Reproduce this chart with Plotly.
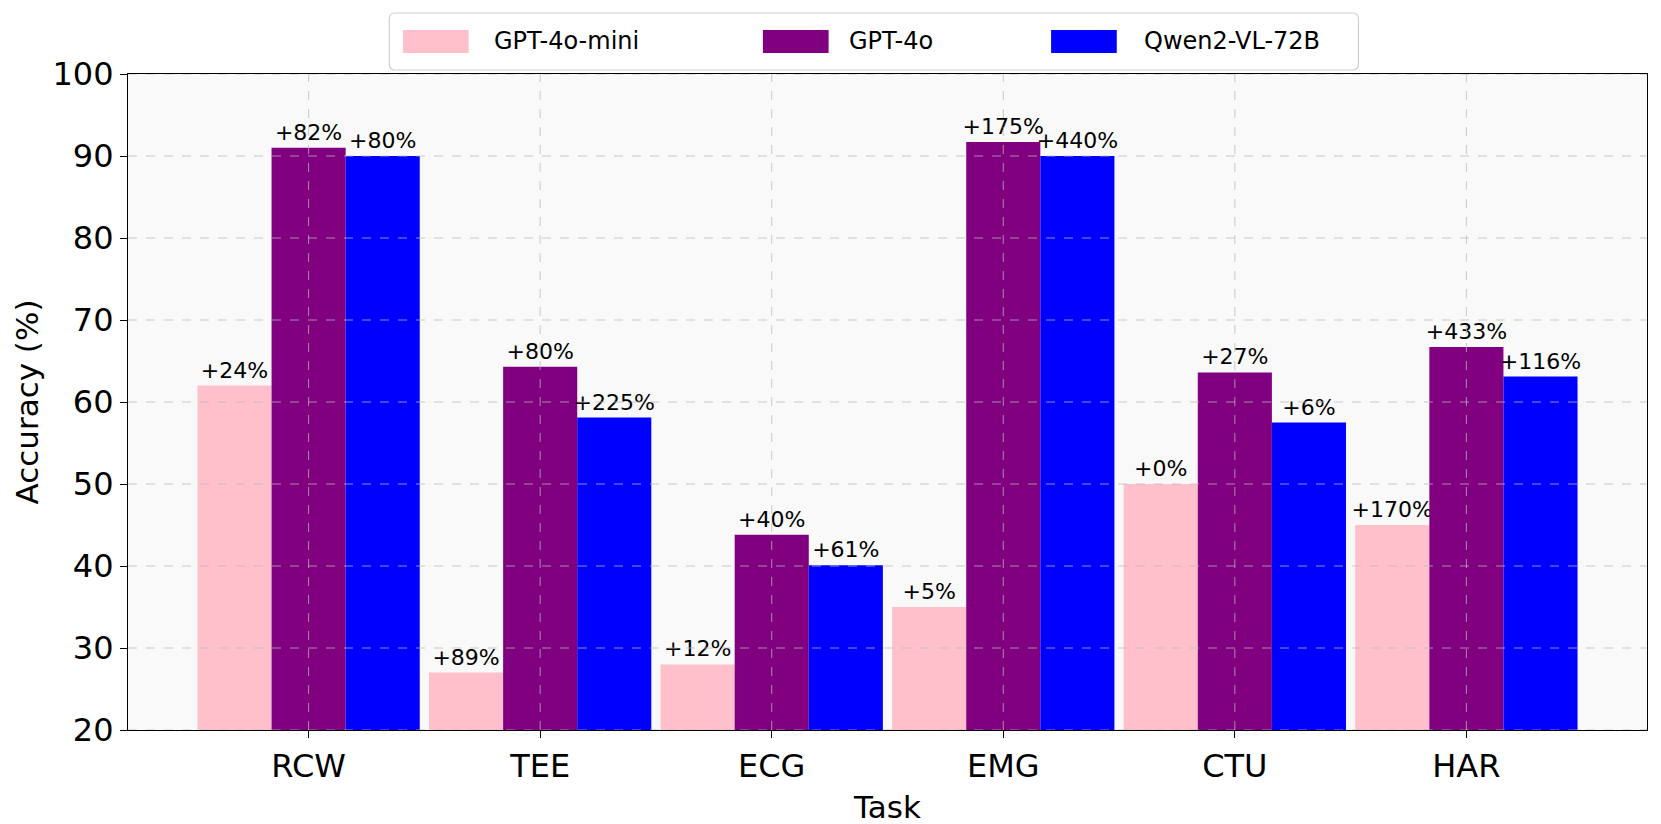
import plotly.graph_objects as go

tasks = ["RCW", "TEE", "ECG", "EMG", "CTU", "HAR"]
series_names = ["GPT-4o-mini", "GPT-4o", "Qwen2-VL-72B"]
mini_vals = [62.0, 27.0, 28.0, 35.0, 50.0, 45.0]
gpt4o_vals = [91.0, 64.3, 43.8, 91.7, 63.6, 66.7]
qwen_vals = [90.0, 58.1, 40.1, 90.0, 57.5, 63.1]
mini_labels = ["+24%", "+89%", "+12%", "+5%", "+0%", "+170%"]
gpt4o_labels = ["+82%", "+80%", "+40%", "+175%", "+27%", "+433%"]
qwen_labels = ["+80%", "+225%", "+61%", "+440%", "+6%", "+116%"]
colors = ["#FFC0CB", "#800080", "#0000FF"]
y_ticks = [20, 30, 40, 50, 60, 70, 80, 90, 100]

FONT = "DejaVu Sans"
W, H = 1661, 824
ML, MR, MT, MB = 120, 22, 66, 102
PW, PH = W - ML - MR, H - MT - MB

fig = go.Figure()
for name, vals, labels, col in zip(series_names,
                                   [mini_vals, gpt4o_vals, qwen_vals],
                                   [mini_labels, gpt4o_labels, qwen_labels],
                                   colors):
    fig.add_trace(go.Bar(
        name=name, x=tasks, y=vals, text=labels,
        textposition="outside", constraintext="none", cliponaxis=False,
        textfont=dict(family=FONT, size=22, color="black"),
        marker=dict(color=col, line=dict(width=0)),
        showlegend=False,
    ))

shapes = []
grid_line = dict(color="rgba(185,185,185,0.75)", width=1, dash="dash")
for yv in y_ticks:
    shapes.append(dict(type="line", xref="paper", yref="y", x0=0, x1=1,
                       y0=yv, y1=yv, line=grid_line, layer="above"))
for t in tasks:
    shapes.append(dict(type="line", xref="x", yref="paper", x0=t, x1=t,
                       y0=0, y1=1, line=grid_line, layer="above"))

# legend box (manual, matplotlib-style)
bx0, bx1 = 0.172, 0.810
by0, by1 = 1 + 4 / PH, 1 + 61 / PH
rx, ry = 6 / PW, 6 / PH
path = (f"M{bx0+rx},{by0} L{bx1-rx},{by0} Q{bx1},{by0} {bx1},{by0+ry} "
        f"L{bx1},{by1-ry} Q{bx1},{by1} {bx1-rx},{by1} L{bx0+rx},{by1} "
        f"Q{bx0},{by1} {bx0},{by1-ry} L{bx0},{by0+ry} Q{bx0},{by0} {bx0+rx},{by0} Z")
shapes.append(dict(type="path", xref="paper", yref="paper", path=path,
                   fillcolor="white", line=dict(color="#d0d0d0", width=1.2), layer="above"))
sw_x = [0.181, 0.418, 0.6077]
tx_x = [0.2397, 0.4732, 0.6676]
sw_w = 62 / 0.944 / PW
cy = (by0 + by1) / 2
sh = 11.5 / PH
annotations = []
for name, col, sx, tx in zip(series_names, colors, sw_x, tx_x):
    shapes.append(dict(type="rect", xref="paper", yref="paper", x0=sx, x1=sx + sw_w,
                       y0=cy - sh, y1=cy + sh, fillcolor=col, line=dict(width=0), layer="above"))
    annotations.append(dict(xref="paper", yref="paper", x=tx, y=cy, xanchor="left",
                            yanchor="middle", text=name, showarrow=False,
                            font=dict(family=FONT, size=24, color="black")))

fig.update_layout(
    width=W, height=H,
    margin=dict(l=ML, r=MR, t=MT, b=MB),
    paper_bgcolor="white",
    plot_bgcolor="#f9f9f9",
    barmode="group", bargap=0.04, bargroupgap=0,
    font=dict(family=FONT, color="black"),
    shapes=shapes, annotations=annotations,
    showlegend=False,
    xaxis=dict(range=[-0.78, 5.78], showgrid=False, showline=True, linecolor="black",
               linewidth=1.2, mirror=True, ticks="outside", ticklen=7, tickcolor="black",
               tickfont=dict(family=FONT, size=32), automargin=False,
               title=dict(text="Task", font=dict(family=FONT, size=31), standoff=12)),
    yaxis=dict(range=[20, 100], tickvals=y_ticks, showgrid=False, zeroline=False,
               showline=True, linecolor="black", linewidth=1.2, mirror=True,
               ticks="outside", ticklen=7, tickcolor="black", automargin=False,
               tickfont=dict(family=FONT, size=32),
               title=dict(text="Accuracy (%)", font=dict(family=FONT, size=31), standoff=4)),
)

fig.write_html("out.html")
